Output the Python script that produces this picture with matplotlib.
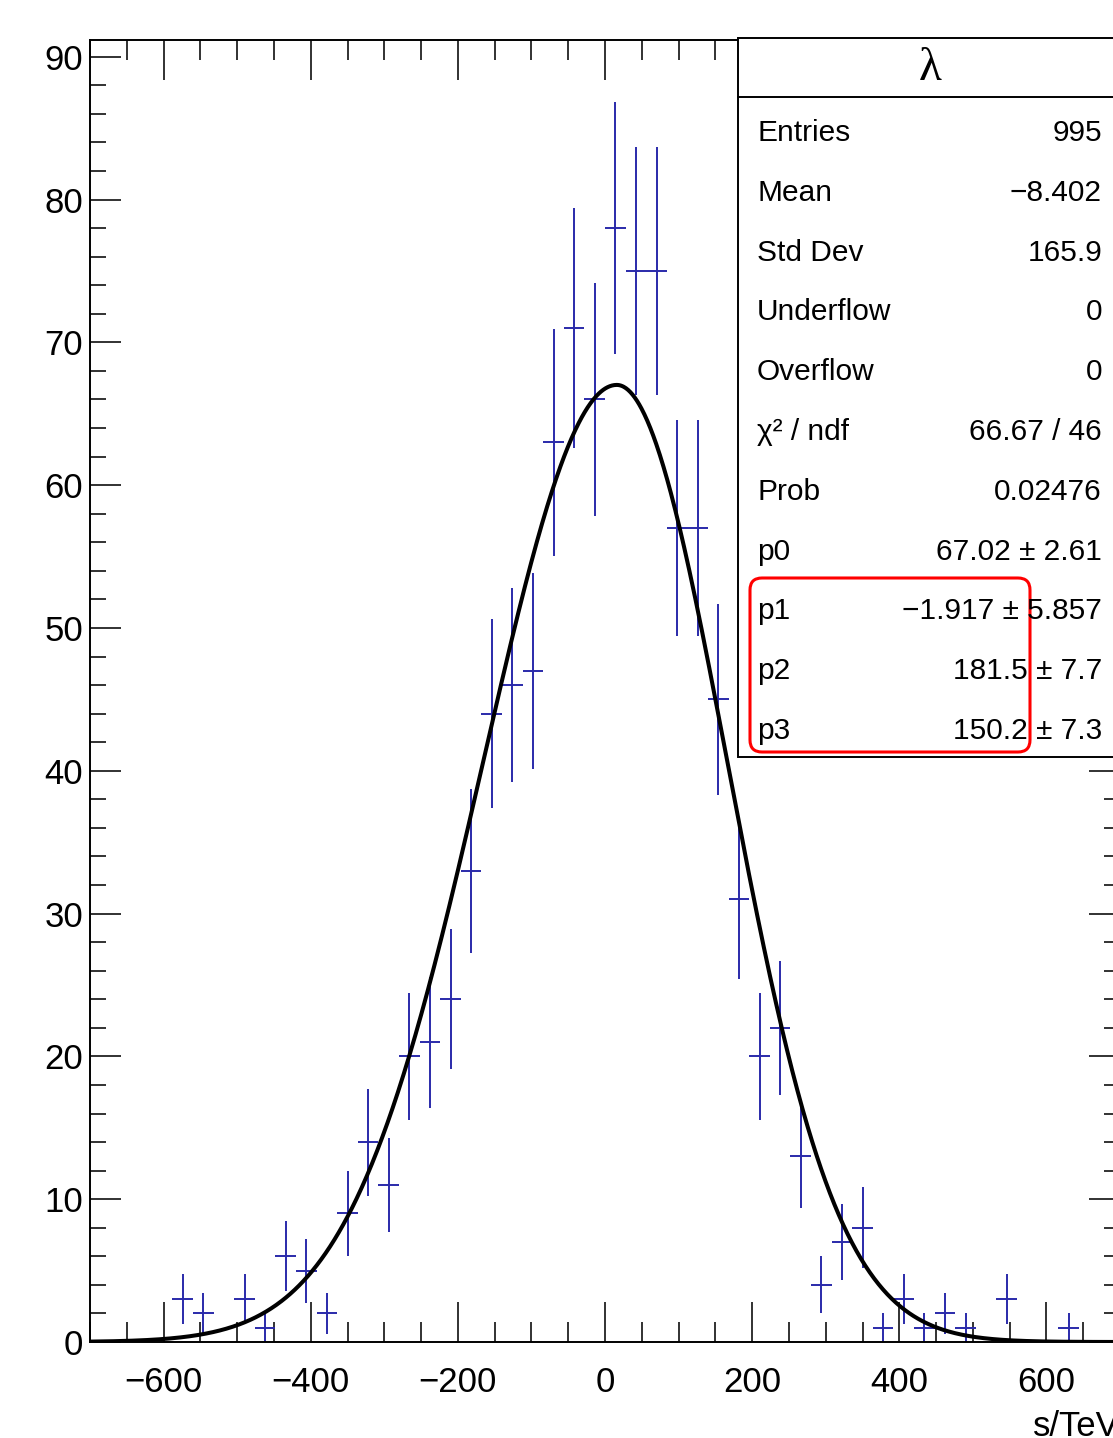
import numpy as np
import matplotlib
matplotlib.use("Agg")
import matplotlib.pyplot as plt
from matplotlib.ticker import MultipleLocator
from matplotlib.patches import Rectangle, FancyBboxPatch

plt.rcParams['font.family'] = ['Liberation Sans', 'DejaVu Sans']

# Histogram: 50 bins between -700 and 700
bin_lo, bin_hi, n_bins = -700, 700, 50
counts = [0, 0, 0, 0, 3, 2, 0, 3, 1, 6,
          5, 2, 9, 14, 11, 20, 21, 24, 33, 44,
          46, 47, 63, 71, 66, 78, 75, 75, 57, 57,
          45, 31, 20, 22, 13, 4, 7, 8, 1, 3,
          1, 2, 1, 0, 3, 0, 0, 1, 0, 0]

# Fitted curve (asymmetric gaussian, peak position)
fit_amp = 67.02
fit_peak = 16.0
fit_sigma_left = 181.5
fit_sigma_right = 150.2

# Stats box
box_title = 'λ'
stat_labels = ['Entries', 'Mean', 'Std Dev', 'Underflow', 'Overflow',
               'χ² / ndf', 'Prob', 'p0', 'p1', 'p2', 'p3']
stat_values = ['995', '\u22128.402', '165.9', '0', '0',
               '66.67 / 46', '0.02476', '67.02 ± 2.61',
               '\u22121.917 ± 5.857', '181.5 ± 7.7', '150.2 ± 7.3']
x_title = 's/TeV'

edges = np.linspace(bin_lo, bin_hi, n_bins + 1)
centers = 0.5 * (edges[:-1] + edges[1:])
half_w = 0.5 * (edges[1] - edges[0])
counts = np.array(counts, dtype=float)
has = counts > 0
errs = np.sqrt(counts)

W, H = 1113, 1438
fig = plt.figure(figsize=(W / 100, H / 100), dpi=100)
ax = fig.add_axes([90 / W, 1 - 1342 / H, 1030 / W, 1302 / H])

ax.errorbar(centers[has], counts[has], yerr=errs[has], xerr=half_w,
            fmt='none', ecolor='#2a2aaa', elinewidth=1.4, capsize=0)

xs = np.linspace(bin_lo, bin_hi, 1400)
sig = np.where(xs < fit_peak, fit_sigma_left, fit_sigma_right)
ax.plot(xs, fit_amp * np.exp(-0.5 * ((xs - fit_peak) / sig) ** 2),
        color='black', lw=2.9)

ax.set_xlim(bin_lo, bin_hi)
ax.set_ylim(0, (counts + errs).max() * 1.05)

ax.xaxis.set_major_locator(MultipleLocator(200))
ax.xaxis.set_minor_locator(MultipleLocator(50))
ax.yaxis.set_major_locator(MultipleLocator(10))
ax.yaxis.set_minor_locator(MultipleLocator(2))
ax.tick_params(which='both', direction='in', top=True, right=True,
               width=1.3, color='#222222', labelsize=25)
ax.tick_params(axis='x', which='major', length=28.8, pad=17)
ax.tick_params(axis='x', which='minor', length=14.4)
ax.tick_params(axis='y', which='major', length=22.3, pad=5)
ax.tick_params(axis='y', which='minor', length=11.2)
for s in ax.spines.values():
    s.set_linewidth(1.4)

# axis title sits at the right end, partly past the edge as in the original
fig.text(1120 / W, 1 - 1436 / H, x_title, ha='right', va='baseline', fontsize=25)

# overlay in pixel units for the stats box
ov = fig.add_axes([0, 0, 1, 1])
ov.set_xlim(0, W)
ov.set_ylim(H, 0)
ov.axis('off')
ov.add_patch(Rectangle((738, 38), 383, 719, facecolor='white',
                       edgecolor='black', lw=1.4))
ov.plot([738, 1121], [97, 97], color='black', lw=1.4)
ov.text(930, 69, box_title, ha='center', va='center', fontsize=34,
        family='Liberation Serif')
for i, (lab, val) in enumerate(zip(stat_labels, stat_values)):
    yb = 141 + 59.8 * i
    ov.text(757, yb, lab, ha='left', va='baseline', fontsize=21.5)
    ov.text(1102, yb, val, ha='right', va='baseline', fontsize=21.5)
ov.add_patch(FancyBboxPatch((750, 578), 280, 174,
                            boxstyle='round,pad=0,rounding_size=12',
                            facecolor='none', edgecolor='red', lw=2.2))

fig.savefig('out.png', dpi=100)
